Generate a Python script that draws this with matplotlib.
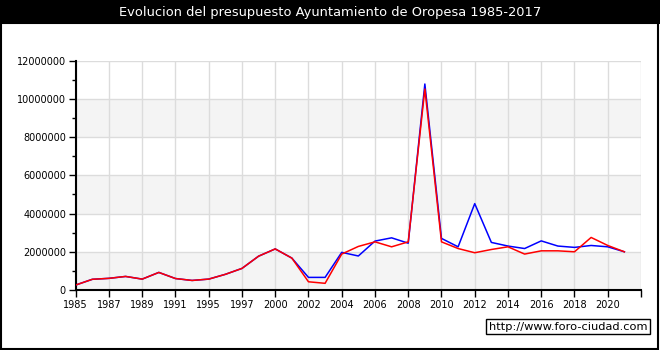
import matplotlib
matplotlib.use("Agg")
import matplotlib.pyplot as plt
from matplotlib.patches import Rectangle
from matplotlib.ticker import MultipleLocator, FixedLocator, FuncFormatter

# Budget years (categorical axis, evenly spaced)
years = [1985, 1986, 1987, 1988, 1989, 1990, 1991, 1993, 1995, 1996, 1997,
         1999, 2000, 2001, 2002, 2003, 2004, 2005, 2006, 2007, 2008, 2009,
         2010, 2011, 2012, 2013, 2014, 2015, 2016, 2017, 2018, 2019, 2020, 2021]

# Revenue (blue) and expenditure (red), euros
ingresos = [260000, 560000, 610000, 710000, 570000, 920000, 600000, 500000,
            570000, 820000, 1130000, 1770000, 2150000, 1670000, 660000, 660000,
            1970000, 1780000, 2560000, 2730000, 2450000, 10780000, 2700000,
            2260000, 4520000, 2490000, 2300000, 2170000, 2570000, 2300000,
            2230000, 2330000, 2260000, 2000000]
gastos = [260000, 560000, 610000, 710000, 570000, 920000, 600000, 500000,
          570000, 820000, 1130000, 1770000, 2150000, 1670000, 430000, 350000,
          1880000, 2280000, 2520000, 2260000, 2520000, 10520000, 2520000,
          2170000, 1950000, 2120000, 2260000, 1880000, 2050000, 2050000,
          2000000, 2750000, 2330000, 2000000]

title = "Evolucion del presupuesto Ayuntamiento de Oropesa 1985-2017"
watermark = "http://www.foro-ciudad.com"

W, H = 660, 350
fig = plt.figure(figsize=(W / 100, H / 100), dpi=100)

# Title bar and outer frame
fig.patches.append(Rectangle((1 / W, 1.5 / H), 1 - 3 / W, 1 - 24 / H,
                             transform=fig.transFigure, facecolor="white",
                             edgecolor="black", linewidth=1.5, zorder=-2))
fig.patches.append(Rectangle((0, 1 - 23.5 / H), 1, 23.5 / H, transform=fig.transFigure,
                             facecolor="black", edgecolor="none", zorder=-1))
fig.text(0.5, 1 - 12.5 / H, title, color="white", ha="center", va="center",
         fontsize=9.4, family="DejaVu Sans")

ax = fig.add_axes([75.7 / W, 1 - 290 / H, (641 - 75.7) / W, (290 - 60.7) / H])
ax.set_zorder(1)
x = list(range(len(years)))
ax.set_xlim(0, 34)
ax.set_ylim(0, 12000000)

# Alternating horizontal bands
for lo in range(0, 12000000, 4000000):
    ax.axhspan(lo, lo + 2000000, facecolor="#f4f4f4", edgecolor="none", zorder=0)

ax.plot(x, ingresos, color="#0000ff", linewidth=1.1, zorder=3)
ax.plot(x, gastos, color="#ff0000", linewidth=1.1, zorder=4)

# Ticks and grid
ax.xaxis.set_major_locator(FixedLocator(range(0, 35, 2)))
labels = [str(years[i]) if i < len(years) else "" for i in range(0, 35, 2)]
ax.set_xticklabels(labels)
ax.yaxis.set_major_locator(MultipleLocator(2000000))
ax.yaxis.set_minor_locator(MultipleLocator(1000000))
ax.yaxis.set_major_formatter(FuncFormatter(lambda v, p: f"{int(v)}"))
ax.grid(True, which="major", color="#dcdcdc", linewidth=1.0, zorder=1)
ax.set_axisbelow(True)
ax.tick_params(axis="both", which="major", length=5, width=1, color="black",
               labelsize=7, pad=2)
ax.tick_params(axis="y", which="minor", length=3, width=1, color="black")
for lab in ax.get_xticklabels() + ax.get_yticklabels():
    lab.set_family("DejaVu Sans")

for side in ("top", "right"):
    ax.spines[side].set_visible(False)
for side in ("left", "bottom"):
    ax.spines[side].set_linewidth(1.5)
    ax.spines[side].set_color("black")

# Source box
fig.text(568 / W, 1 - 326.5 / H, watermark, ha="center", va="center",
         fontsize=8.2, family="DejaVu Sans",
         bbox=dict(boxstyle="square,pad=0.25", facecolor="white",
                   edgecolor="black", linewidth=1.0))

fig.savefig("out.png", dpi=100)
